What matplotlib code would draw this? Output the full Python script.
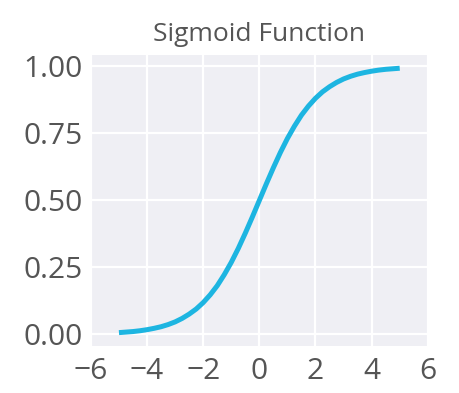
import numpy as np
import matplotlib
matplotlib.use("Agg")
import matplotlib.pyplot as plt

# values (0.25 steps)
x_vals = [-5.0, -4.75, -4.5, -4.25, -4.0, -3.75, -3.5, -3.25, -3.0, -2.75,
          -2.5, -2.25, -2.0, -1.75, -1.5, -1.25, -1.0, -0.75, -0.5, -0.25,
          0.0, 0.25, 0.5, 0.75, 1.0, 1.25, 1.5, 1.75, 2.0, 2.25,
          2.5, 2.75, 3.0, 3.25, 3.5, 3.75, 4.0, 4.25, 4.5, 4.75, 5.0]
y_vals = [0.007, 0.009, 0.011, 0.014, 0.018, 0.023, 0.029, 0.037, 0.047, 0.060,
          0.076, 0.095, 0.119, 0.148, 0.182, 0.223, 0.269, 0.321, 0.378, 0.438,
          0.500, 0.562, 0.622, 0.679, 0.731, 0.777, 0.818, 0.852, 0.881, 0.905,
          0.924, 0.940, 0.953, 0.963, 0.971, 0.977, 0.982, 0.986, 0.989, 0.991, 0.993]
x_ticks = [-6, -4, -2, 0, 2, 4, 6]
y_ticks = [0.0, 0.25, 0.5, 0.75, 1.0]

plt.rcParams['font.family'] = ['Open Sans', 'DejaVu Sans']

fig = plt.figure(figsize=(4.59, 3.93), dpi=100)
ax = fig.add_axes([0.198, 0.120, 0.734, 0.740])
ax.set_facecolor('#EFEFF4')
ax.plot(x_vals, y_vals, color='#1DB5E1', linewidth=3.6, solid_capstyle='butt')

ax.set_xlim(-6, 6)
ax.set_xticks(x_ticks)
ax.set_yticks(y_ticks)
ax.set_yticklabels([f"{v:.2f}" for v in y_ticks])
ax.grid(True, color='white', linewidth=1.6)
ax.set_axisbelow(True)
for s in ax.spines.values():
    s.set_visible(False)
ax.tick_params(length=0, labelsize=21.5, colors='#555555')
ax.tick_params(axis='y', pad=6)
ax.tick_params(axis='x', pad=8)
ax.set_title("Sigmoid Function", fontsize=19, color='#555555', pad=10)

fig.savefig("out.png", dpi=100)
